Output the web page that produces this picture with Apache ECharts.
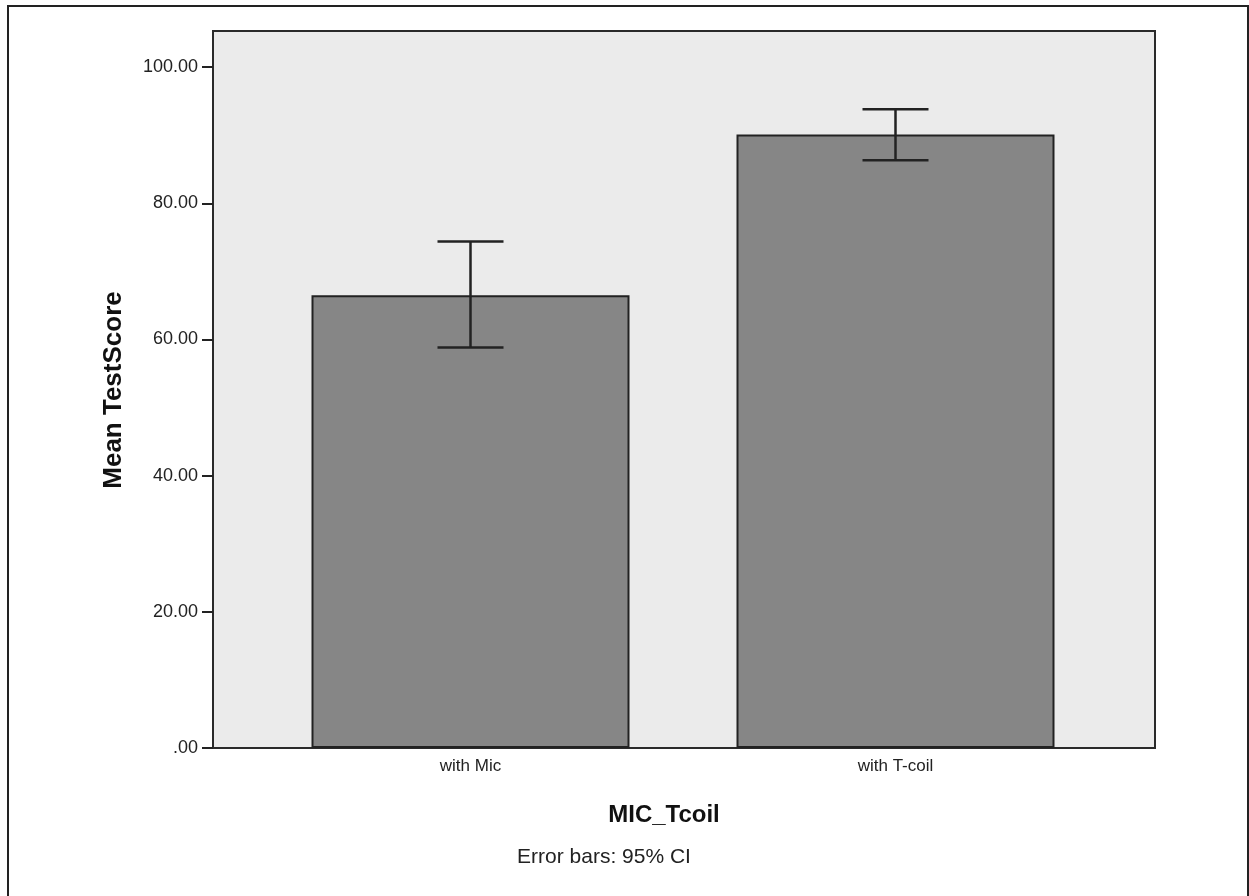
<!DOCTYPE html>
<html>
<head>
<meta charset="utf-8">
<script src="https://cdn.jsdelivr.net/npm/echarts@6/dist/echarts.min.js"></script>
<style>
  html, body { margin: 0; padding: 0; background: #fff; }
  #chart { width: 1249px; height: 896px; }
</style>
</head>
<body>
<div id="chart"></div>
<script>
const categories = ['with Mic', 'with T-coil'];
const means = [66.5, 90.1];
const ciLow = [58.8, 86.3];
const ciHigh = [74.4, 93.8];
const yTicks = [0, 20, 40, 60, 80, 100];

const FONT = "'Liberation Sans', Arial, sans-serif";
const yMax = 105.3;

const chart = echarts.init(document.getElementById('chart'));

chart.setOption({
  animation: false,
  backgroundColor: '#fff',
  grid: [
    // frame of the plot
    {left: 213, right: 94, top: 31, bottom: 148, show: true,
     backgroundColor: '#ebebeb', borderColor: '#2a2a2a', borderWidth: 2},
    // bars sit in a narrower band so they keep SPSS spacing
    {left: 258, right: 141, top: 31, bottom: 148}
  ],
  xAxis: [
    {gridIndex: 0, type: 'value', show: false, min: 0, max: 1},
    {
      gridIndex: 1, type: 'category', data: categories,
      axisLine: {show: false},
      axisTick: {alignWithLabel: true, length: 7, lineStyle: {color: '#222', width: 2}},
      axisLabel: {color: '#222', fontSize: 17, fontFamily: FONT, margin: 10}
    }
  ],
  yAxis: [
    {
      gridIndex: 0, type: 'value', min: 0, max: yMax,
      splitLine: {show: false},
      axisLine: {show: true, lineStyle: {color: '#2a2a2a', width: 2}},
      axisTick: {show: true, length: 11, customValues: yTicks, lineStyle: {color: '#222', width: 2}},
      axisLabel: {
        customValues: yTicks, color: '#222', fontSize: 18, fontFamily: FONT, margin: 15,
        formatter: v => v === 0 ? '.00' : v.toFixed(2)
      }
    },
    {gridIndex: 1, type: 'value', min: 0, max: yMax, show: false}
  ],
  series: [
    {
      type: 'bar', xAxisIndex: 1, yAxisIndex: 1,
      data: means, barWidth: 318,
      itemStyle: {color: '#868686', borderColor: '#222', borderWidth: 2}
    },
    {
      type: 'custom', xAxisIndex: 1, yAxisIndex: 1, z: 5,
      data: categories.map((c, i) => [i, ciLow[i], ciHigh[i]]),
      renderItem: (params, api) => {
        const lo = api.coord([api.value(0), api.value(1)]);
        const hi = api.coord([api.value(0), api.value(2)]);
        const half = 33;
        const style = {stroke: '#222', lineWidth: 2.5};
        return {
          type: 'group',
          children: [
            {type: 'line', shape: {x1: hi[0], y1: hi[1], x2: lo[0], y2: lo[1]}, style},
            {type: 'line', shape: {x1: hi[0] - half, y1: hi[1], x2: hi[0] + half, y2: hi[1]}, style},
            {type: 'line', shape: {x1: lo[0] - half, y1: lo[1], x2: lo[0] + half, y2: lo[1]}, style}
          ]
        };
      }
    }
  ],
  graphic: [
    {type: 'rect', shape: {x: 8, y: 6, width: 1240, height: 930},
     style: {fill: 'none', stroke: '#222', lineWidth: 2}, silent: true},
    {type: 'text', x: 114, y: 390, rotation: Math.PI / 2,
     style: {text: 'Mean TestScore', font: 'bold 26px ' + FONT, fill: '#111',
             textAlign: 'center', textVerticalAlign: 'middle'}},
    {type: 'text', x: 664, y: 815,
     style: {text: 'MIC_Tcoil', font: 'bold 24px ' + FONT, fill: '#111',
             textAlign: 'center', textVerticalAlign: 'middle'}},
    {type: 'text', x: 604, y: 857,
     style: {text: 'Error bars: 95% CI', font: '21px ' + FONT, fill: '#222',
             textAlign: 'center', textVerticalAlign: 'middle'}}
  ]
});
</script>
</body>
</html>
